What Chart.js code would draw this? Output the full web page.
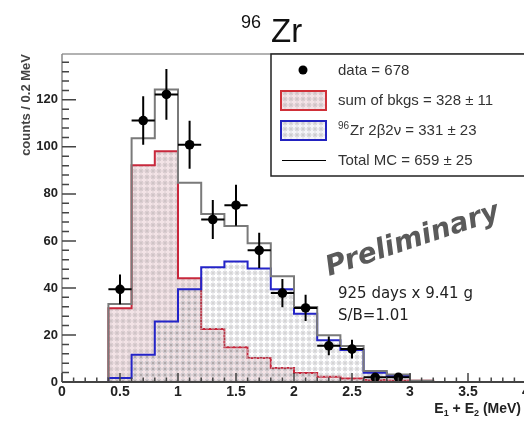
<!DOCTYPE html>
<html>
<head>
<meta charset="utf-8">
<script src="https://cdn.jsdelivr.net/npm/chart.js"></script>
<style>
body { margin: 0; background: #fff; overflow: hidden; }
#wrap { width: 524px; height: 421px; overflow: hidden; }
</style>
</head>
<body>
<div id="wrap"><canvas id="zr" width="540" height="421"></canvas></div>
<script>
// histogram bins, 0.2 MeV wide (left edges + last right edge)
const binEdges = [0.4, 0.6, 0.8, 1.0, 1.2, 1.4, 1.6, 1.8, 2.0, 2.2, 2.4, 2.6, 2.8, 3.0, 3.2];
// MC: sum of backgrounds, 96Zr 2b2v, total
const bkgCounts = [31.4, 92.2, 98.1, 44.1, 22.5, 14.8, 10.2, 6.0, 3.8, 2.2, 1.5, 0.8, 0.6, 0.5];
const bbCounts = [1.7, 11.6, 25.7, 39.4, 48.8, 51.2, 48.3, 39.5, 29.0, 17.8, 13.6, 3.9, 2.5];
const totalCounts = [33.2, 103.7, 124.4, 84.7, 71.4, 66.3, 59.0, 45.0, 31.9, 19.9, 15.3, 4.7, 3.2, 0.5];
// data points (bin centres) with errors
const dataX = [0.5, 0.7, 0.9, 1.1, 1.3, 1.5, 1.7, 1.9, 2.1, 2.3, 2.5, 2.7, 2.9];
const dataY = [39.4, 111.2, 122.3, 100.9, 69.1, 75.2, 56.0, 37.8, 31.5, 15.4, 14.0, 2.0, 2.0];
const dataErr = [6.3, 10.3, 10.8, 10.2, 8.3, 8.7, 7.5, 6.0, 5.6, 4.0, 4.0, 1.4, 1.4];
const halfBin = 0.1;

const legendLabels = ['data = 678', 'sum of bkgs = 328 \u00b1 11', 'Zr 2\u03b22\u03bd = 331 \u00b1 23', 'Total MC = 659 \u00b1 25'];

const sansB = '"Liberation Sans", Arial, sans-serif';

function makePattern(bg, ring, dot) {
	const c = document.createElement('canvas');
	c.width = 6; c.height = 6;
	const g = c.getContext('2d');
	if (bg) { g.fillStyle = bg; g.fillRect(0, 0, 6, 6); }
	g.strokeStyle = ring; g.lineWidth = 0.8;
	g.beginPath(); g.arc(3, 3, 2, 0, Math.PI * 2); g.stroke();
	g.fillStyle = dot;
	g.fillRect(2.5, 2.5, 1, 1);
	return g.createPattern(c, 'repeat');
}
const pinkPat = makePattern('#f3e3e6', '#c9bcc0', '#6a6a6a');
const bluePat = makePattern(null, '#c6c6cc', '#5a5a5a');
const bluePatBox = makePattern('#f4f4f8', '#c6c6cc', '#5a5a5a');

// build step-histogram points from the bin arrays
function histPoints(counts) {
	const pts = [{x: binEdges[0], y: 0}];
	counts.forEach((c, i) => pts.push({x: binEdges[i], y: c}));
	pts.push({x: binEdges[counts.length], y: 0});
	return pts;
}

const overlay = {
	id: 'overlay',
	afterDatasetsDraw(chart) {
		const ctx = chart.ctx, xs = chart.scales.x, ys = chart.scales.y;
		// error bars
		ctx.save();
		ctx.strokeStyle = '#000';
		ctx.lineWidth = 2;
		dataX.forEach((x, i) => {
			const px = xs.getPixelForValue(x), py = ys.getPixelForValue(dataY[i]);
			ctx.beginPath();
			ctx.moveTo(px, ys.getPixelForValue(dataY[i] - dataErr[i]));
			ctx.lineTo(px, ys.getPixelForValue(dataY[i] + dataErr[i]));
			ctx.moveTo(xs.getPixelForValue(x - halfBin), py);
			ctx.lineTo(xs.getPixelForValue(x + halfBin), py);
			ctx.stroke();
		});
		ctx.restore();
	},
	afterDraw(chart) {
		const ctx = chart.ctx, a = chart.chartArea, xs = chart.scales.x, ys = chart.scales.y;
		ctx.save();
		// frame + axes
		ctx.strokeStyle = '#999'; ctx.lineWidth = 1.5;
		ctx.beginPath(); ctx.moveTo(a.left, a.top); ctx.lineTo(a.right, a.top); ctx.stroke();
		ctx.strokeStyle = '#888';
		ctx.beginPath(); ctx.moveTo(a.left, a.top); ctx.lineTo(a.left, a.bottom); ctx.stroke();
		ctx.strokeStyle = '#444'; ctx.lineWidth = 2;
		ctx.beginPath(); ctx.moveTo(a.left, a.bottom); ctx.lineTo(a.right, a.bottom); ctx.stroke();
		// inward ticks
		ctx.strokeStyle = '#444'; ctx.lineWidth = 1.5;
		ctx.beginPath();
		for (let v = 0; v <= ys.max; v += 4) {
			const py = ys.getPixelForValue(v);
			ctx.moveTo(a.left, py); ctx.lineTo(a.left + (v % 20 === 0 ? 14 : 7), py);
		}
		for (let k = 0; k <= 40; k++) {
			const px = xs.getPixelForValue(k / 10);
			ctx.moveTo(px, a.bottom); ctx.lineTo(px, a.bottom - (k % 5 === 0 ? 9 : 4.5));
		}
		ctx.stroke();

		// title 96Zr
		ctx.fillStyle = '#111';
		ctx.textBaseline = 'alphabetic';
		ctx.font = '18px ' + sansB;
		ctx.fillText('96', 241, 28);
		ctx.font = '33px ' + sansB;
		ctx.fillText('Zr', 271, 42);

		// x axis title E1 + E2 (MeV)
		const parts = [['E', 14, 0], ['1', 9, 3], [' + E', 14, 0], ['2', 9, 3], [' (MeV)', 14, 0]];
		let w = 0;
		parts.forEach(p => { ctx.font = 'bold ' + p[1] + 'px ' + sansB; w += ctx.measureText(p[0]).width; });
		let x0 = 521 - w;
		ctx.fillStyle = '#222';
		parts.forEach(p => {
			ctx.font = 'bold ' + p[1] + 'px ' + sansB;
			ctx.fillText(p[0], x0, 413 + p[2]);
			x0 += ctx.measureText(p[0]).width;
		});

		// Preliminary
		ctx.save();
		ctx.translate(329, 276);
		ctx.rotate(-18.5 * Math.PI / 180);
		ctx.font = 'italic bold 28px "DejaVu Sans", sans-serif';
		ctx.fillStyle = '#5a5a5a';
		ctx.fillText('Preliminary', 0, 0);
		ctx.restore();

		ctx.font = '15px "DejaVu Sans", sans-serif';
		ctx.fillStyle = '#222';
		ctx.fillText('925 days x 9.41 g', 338, 298);
		ctx.fillText('S/B=1.01', 338, 320);

		// legend box
		ctx.fillStyle = '#fff';
		ctx.fillRect(271, a.top, 280, 122);
		ctx.strokeStyle = '#222'; ctx.lineWidth = 1.5;
		ctx.strokeRect(271, a.top, 280, 122);
		ctx.fillStyle = '#000';
		ctx.beginPath(); ctx.arc(303, 70, 4.5, 0, Math.PI * 2); ctx.fill();
		ctx.fillStyle = pinkPat; ctx.fillRect(281, 91, 45, 19);
		ctx.strokeStyle = '#d03038'; ctx.lineWidth = 2; ctx.strokeRect(281, 91, 45, 19);
		ctx.fillStyle = bluePatBox; ctx.fillRect(281, 121, 45, 19);
		ctx.strokeStyle = '#2222c0'; ctx.strokeRect(281, 121, 45, 19);
		ctx.strokeStyle = '#000'; ctx.lineWidth = 1;
		ctx.beginPath(); ctx.moveTo(282, 160.5); ctx.lineTo(326, 160.5); ctx.stroke();

		ctx.fillStyle = '#333';
		ctx.textBaseline = 'middle';
		ctx.font = '15px ' + sansB;
		ctx.fillText(legendLabels[0], 338, 71);
		ctx.fillText(legendLabels[1], 338, 101);
		ctx.font = '10px ' + sansB;
		ctx.fillText('96', 338, 126);
		ctx.font = '15px ' + sansB;
		ctx.fillText(legendLabels[2], 350, 131);
		ctx.fillText(legendLabels[3], 338, 161);
		ctx.restore();
	}
};

new Chart(document.getElementById('zr'), {
	type: 'line',
	data: {
		datasets: [
			{
				type: 'scatter',
				label: 'data',
				data: dataX.map((x, i) => ({x: x, y: dataY[i]})),
				pointRadius: 4.8,
				pointBackgroundColor: '#000',
				pointBorderWidth: 0,
				showLine: false
			},
			{
				label: 'Total MC',
				data: histPoints(totalCounts),
				stepped: true,
				borderColor: '#7a7a7a',
				borderWidth: 2,
				pointRadius: 0,
				fill: false
			},
			{
				label: '96Zr 2b2v',
				data: histPoints(bbCounts),
				stepped: true,
				borderColor: '#2424c8',
				borderWidth: 2,
				pointRadius: 0,
				backgroundColor: bluePat,
				fill: 'origin'
			},
			{
				label: 'sum of bkgs',
				data: histPoints(bkgCounts),
				stepped: true,
				borderColor: '#c8283c',
				borderWidth: 2,
				pointRadius: 0,
				backgroundColor: pinkPat,
				fill: 'origin'
			}
		]
	},
	options: {
		responsive: false,
		animation: false,
		events: [],
		layout: { padding: { top: 54, right: 14, left: 0, bottom: 0 } },
		plugins: {
			legend: { display: false },
			tooltip: { enabled: false }
		},
		scales: {
			x: {
				type: 'linear',
				min: 0,
				max: 4,
				afterFit(scale) { scale.height = 39; },
				grid: { display: false, drawTicks: false },
				border: { display: false },
				ticks: {
					stepSize: 0.5,
					includeBounds: false,
					autoSkip: false,
					maxRotation: 0,
					padding: 2,
					color: '#222',
					font: { family: sansB, size: 14, weight: 'bold' },
					callback: v => String(Math.round(v * 10) / 10)
				}
			},
			y: {
				min: 0,
				max: 139.5,
				afterFit(scale) { scale.width = 62; },
				grid: { display: false, drawTicks: false },
				border: { display: false },
				ticks: {
					stepSize: 20,
					includeBounds: false,
					padding: 4,
					color: '#222',
					font: { family: sansB, size: 13, weight: 'bold' }
				},
				title: {
					display: true,
					text: 'counts / 0.2 MeV',
					align: 'end',
					color: '#444',
					padding: { top: 19 },
					font: { family: sansB, size: 13, weight: 'bold' }
				}
			}
		}
	},
	plugins: [overlay]
});
</script>
</body>
</html>
